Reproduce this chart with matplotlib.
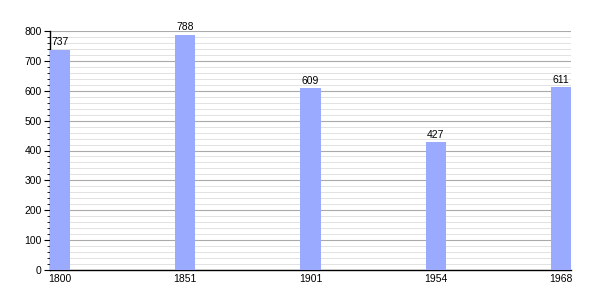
import matplotlib
matplotlib.use("Agg")
from matplotlib import pyplot as plt
from matplotlib.ticker import MultipleLocator

years = ['1800', '1851', '1901', '1954', '1968']
population = [737, 788, 609, 427, 611]

plt.rcParams['font.family'] = ['Liberation Sans', 'DejaVu Sans']

fig = plt.figure(figsize=(6, 3), dpi=100)
ax = fig.add_axes([50/600, 30/300, 521/600, 239/300])

w = 0.16
stt = list(range(len(years)))
bars = ax.bar(stt, population, width=w, color='#99aaff', zorder=3)

for rect, v in zip(bars, population):
    ax.text(rect.get_x() + rect.get_width()/2., v + 8, str(v),
            ha='center', va='bottom', fontsize=7.5, zorder=4)

ax.set_xlim(-w/2, len(years) - 1 + w/2)
ax.set_ylim(0, 800)
ax.set_xticks(stt)
ax.set_xticklabels(years)
ax.yaxis.set_major_locator(MultipleLocator(100))
ax.yaxis.set_minor_locator(MultipleLocator(20))
ax.grid(which='major', axis='y', color='#aaaaaa', linewidth=0.8, zorder=1)
ax.grid(which='minor', axis='y', color='#dddddd', linewidth=0.6, zorder=1)

for s in ['top', 'right']:
    ax.spines[s].set_visible(False)
ax.spines['left'].set_linewidth(1)
ax.spines['bottom'].set_linewidth(1)
ax.tick_params(axis='x', length=0, labelsize=7.5, pad=3)
ax.tick_params(axis='y', which='major', length=4, labelsize=7.5, pad=2)
ax.tick_params(axis='y', which='minor', length=2)

plt.savefig("out.png", dpi=100)
